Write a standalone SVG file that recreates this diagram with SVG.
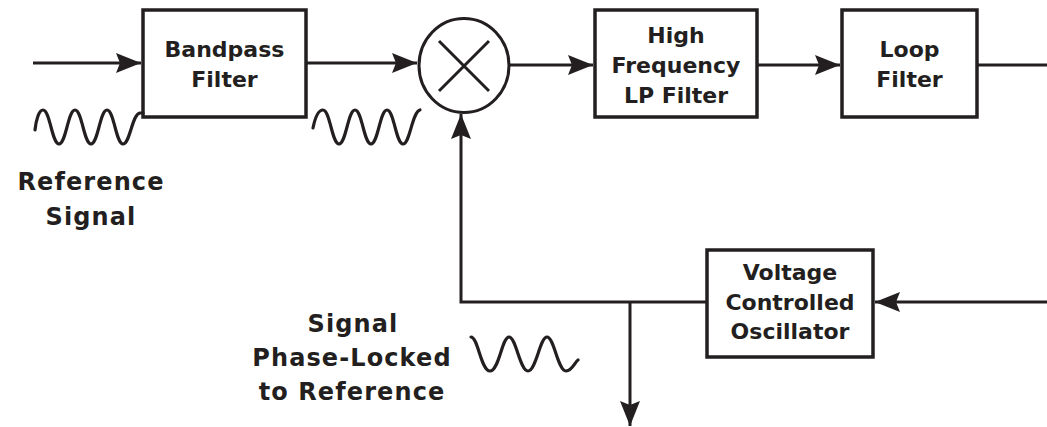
<svg xmlns="http://www.w3.org/2000/svg" width="1047" height="427" viewBox="0 0 1047 427">
<style>
.box{fill:none;stroke:#231f20;stroke-width:3.5}
.ln{fill:none;stroke:#231f20;stroke-width:3}
.wave{fill:none;stroke:#231f20;stroke-width:3.2;stroke-linecap:round;stroke-linejoin:round}
.bt{font-family:"DejaVu Sans","Liberation Sans",sans-serif;font-weight:bold;font-size:22px;fill:#231f20;text-anchor:middle}
.lb{font-family:"DejaVu Sans","Liberation Sans",sans-serif;font-weight:bold;font-size:24px;fill:#231f20;text-anchor:middle;letter-spacing:1.1px}
</style>
<defs>
<marker id="ah" markerUnits="userSpaceOnUse" viewBox="-25 -11 27 22" refX="0" refY="0" markerWidth="27" markerHeight="22" orient="auto">
<path d="M0,0 L-25,-10 L-21,0 L-25,10 Z" fill="#231f20"/>
</marker>
</defs>
<rect width="1047" height="427" fill="#ffffff"/>
<g id="connectors">
<path class="ln" d="M33,63 H141" marker-end="url(#ah)"/>
<path class="ln" d="M306,63 H417" marker-end="url(#ah)"/>
<path class="ln" d="M509,65 H593" marker-end="url(#ah)"/>
<path class="ln" d="M757,65 H840" marker-end="url(#ah)"/>
<path class="ln" d="M977,65 H1047"/>
<path class="ln" d="M1047,302 H875" marker-end="url(#ah)"/>
<path class="ln" d="M707,302 H461 V114" marker-end="url(#ah)"/>
<path class="ln" d="M630,302 V426" marker-end="url(#ah)"/>
</g>
<g id="bandpass">
<rect class="box" x="143" y="10" width="163" height="107"/>
<text class="bt" x="224.5" y="57">Bandpass</text>
<text class="bt" x="224.5" y="87">Filter</text>
</g>
<g id="mixer">
<ellipse class="ln" cx="464" cy="65.5" rx="45" ry="47"/>
<path class="ln" d="M439,41 L489,91 M489,41 L439,91"/>
</g>
<g id="hf-lp-filter">
<rect class="box" x="595" y="10" width="162" height="107"/>
<text class="bt" x="676" y="43">High</text>
<text class="bt" x="676" y="73">Frequency</text>
<text class="bt" x="676" y="103">LP Filter</text>
</g>
<g id="loop-filter">
<rect class="box" x="842" y="10" width="135" height="107"/>
<text class="bt" x="909.5" y="57">Loop</text>
<text class="bt" x="909.5" y="87">Filter</text>
</g>
<g id="vco">
<rect class="box" x="707" y="250" width="166" height="107"/>
<text class="bt" x="790" y="280">Voltage</text>
<text class="bt" x="790" y="310">Controlled</text>
<text class="bt" x="790" y="339">Oscillator</text>
</g>
<g id="ref-signal">
<path class="wave" d="M35,130 C36,120 39,110 43,110 C50,110 52,144 59,144 C66,144 68,110 75,110 C82,110 84,144 91,144 C98,144 100,110 107,110 C114,110 116,144 123,144 C130,144 132,114 140,113 L143,113"/>
<text class="lb" x="91" y="190">Reference</text>
<text class="lb" x="91" y="225">Signal</text>
</g>
<g id="filtered-signal">
<path class="wave" d="M313,128 C315,118 318,110 323,110 C330,110 332,144 339,144 C346,144 348,110 355,110 C362,110 364,144 371,144 C378,144 380,110 387,110 C394,110 396,144 403,144 C410,144 412,112 420,110"/>
</g>
<g id="locked-signal">
<path class="wave" d="M471,337 C478,337 481,371 490,371 C499,371 502,337 509,337 C516,337 520,371 528,371 C536,371 540,337 547,337 C554,337 558,371 566,371 C572,371 575,362 578,360"/>
<text class="lb" x="353" y="332">Signal</text>
<text class="lb" x="352" y="366">Phase-Locked</text>
<text class="lb" x="352" y="400">to Reference</text>
</g>
</svg>
